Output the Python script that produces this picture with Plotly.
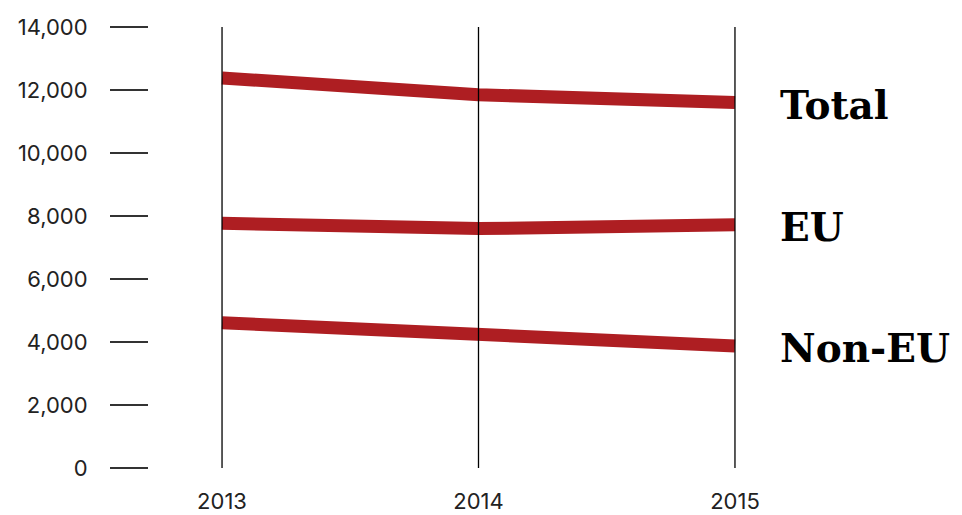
import plotly.graph_objects as go

# Yearly counts by origin
years = [2013, 2014, 2015]
year_labels = ["2013", "2014", "2015"]
total = [12380, 11850, 11600]
eu = [7770, 7600, 7720]
non_eu = [4610, 4230, 3870]
series_names = ["Total", "EU", "Non-EU"]

y_ticks = [0, 2000, 4000, 6000, 8000, 10000, 12000, 14000]
y_tick_labels = ["0", "2,000", "4,000", "6,000", "8,000", "10,000", "12,000", "14,000"]

RED = "#AE1E22"
W, H = 962, 515

fig = go.Figure()

for vals, name in zip([total, eu, non_eu], series_names):
    fig.add_trace(go.Scatter(
        x=years, y=vals, mode="lines", name=name,
        line=dict(color=RED, width=13),
        hoverinfo="x+y+name",
    ))
    # series label at the last point
    fig.add_annotation(
        x=years[-1], y=vals[-1], text=name, showarrow=False,
        xanchor="left", yanchor="middle", xshift=43, yshift=-2,
        font=dict(family="DejaVu Serif", size=39, color="#000000", weight="bold"),
    )

# vertical year rules, drawn over the lines
for yr in years:
    fig.add_shape(type="line", xref="x", yref="y", x0=yr, x1=yr,
                  y0=y_ticks[0], y1=y_ticks[-1],
                  line=dict(color="#000000", width=1.3), layer="above")

pad = 0.004
fig.update_layout(
    width=W, height=H, autosize=False,
    margin=dict(l=0, r=0, t=0, b=0, pad=0, autoexpand=False),
    paper_bgcolor="white", plot_bgcolor="white",
    showlegend=False,
    font=dict(family="Inter", size=22, color="#222222"),
    xaxis=dict(
        domain=[221 / W, 736 / W],
        range=[years[0] - pad, years[-1] + pad],
        tickvals=years, ticktext=year_labels,
        showgrid=False, zeroline=False, showline=False,
        ticks="", ticklabelstandoff=18, automargin=False,
    ),
    yaxis=dict(
        domain=[(H - 468) / H, (H - 27) / H],
        range=[y_ticks[0], y_ticks[-1]],
        tickvals=y_ticks, ticktext=y_tick_labels,
        anchor="free", position=148 / W,
        showgrid=False, zeroline=False, showline=False,
        ticks="outside", ticklen=38, tickwidth=1.5, tickcolor="#333333",
        ticklabelstandoff=18, automargin=False,
    ),
)

fig.write_html("out.html")
